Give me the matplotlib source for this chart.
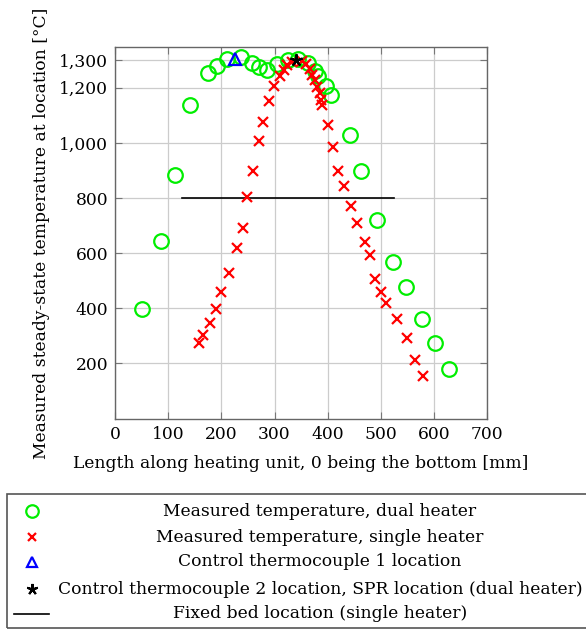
import matplotlib
matplotlib.use("Agg")
import matplotlib.pyplot as plt
from matplotlib.patches import Rectangle
from matplotlib.lines import Line2D
from matplotlib.ticker import FuncFormatter

plt.rcParams['font.family'] = ['DejaVu Serif']
plt.rcParams['font.size'] = 12.3

# dual heater measurements [mm], [degC]
dual_x = [50, 86, 112, 141, 175, 192, 211, 237, 257, 271, 286, 304, 326, 345,
          363, 376, 382, 397, 407, 442, 462, 492, 523, 548, 577, 603, 628]
dual_t = [399, 643, 885, 1136, 1252, 1279, 1304, 1312, 1290, 1274, 1266, 1286, 1300, 1303,
          1290, 1260, 1242, 1206, 1175, 1028, 900, 722, 567, 479, 362, 276, 180]

# single heater measurements
single_x = [158, 165, 178, 189, 199, 214, 229, 240, 249, 259, 270, 279, 290, 299,
            310, 317, 323, 333, 351, 360, 366, 370, 376, 379, 385, 388, 389, 401,
            410, 420, 430, 444, 455, 470, 480, 490, 500, 510, 530, 549, 565, 580]
single_t = [276, 304, 346, 399, 460, 530, 618, 691, 805, 898, 1007, 1077, 1152, 1207,
            1242, 1264, 1282, 1294, 1297, 1288, 1268, 1246, 1228, 1204, 1180, 1155, 1137, 1066,
            986, 899, 844, 771, 709, 640, 594, 507, 459, 421, 362, 294, 213, 153]

tc1_x, tc1_t = [226], [1303]
tc2_x, tc2_t = [340], [1300]
bed_x, bed_t = [125, 525], [800, 800]

xticks = [0, 100, 200, 300, 400, 500, 600, 700]
yticks = [200, 400, 600, 800, 1000, 1200, 1300]

STAR = (5, 2, 0)  # five-armed asterisk, like the pgfplots star

fig = plt.figure(figsize=(5.86, 6.29), dpi=100)
W, H = 586, 629
ax = fig.add_axes([115.2 / W, 1 - 418.6 / H, (487 - 115.2) / W, (418.6 - 47.3) / H])

ax.plot(dual_x, dual_t, 'o', ms=10.5, mfc='none', mec='#00ee00', mew=1.6, zorder=3)
ax.plot(single_x, single_t, 'x', ms=7, mec='red', mew=1.6, zorder=4)
ax.plot(tc1_x, tc1_t, '^', ms=8, mfc='none', mec='blue', mew=1.6, zorder=5)
ax.plot(tc2_x, tc2_t, ls='none', marker=STAR, ms=9, color='black', mew=1.5, zorder=6)
ax.plot(bed_x, bed_t, '-', color='black', lw=1.2, zorder=2)

ax.set_xlim(0, 700)
ax.set_ylim(0, 1347)
ax.set_xticks(xticks)
ax.set_yticks(yticks)
ax.yaxis.set_major_formatter(FuncFormatter(lambda v, p: f"{int(v):,}"))
ax.grid(True, color='#cccccc', lw=0.9)
ax.set_axisbelow(True)
ax.tick_params(direction='in', length=5, color='#777777', top=True, right=True,
               labelsize=12.3, pad=5)
for s in ax.spines.values():
    s.set_color('#666666')
    s.set_linewidth(1.0)

ax.set_xlabel('Length along heating unit, 0 being the bottom [mm]', labelpad=9)
ax.set_ylabel('Measured steady-state temperature at location [°C]', labelpad=7)

# legend, drawn by hand so the text can be centred
fig.patches.append(Rectangle((6.7 / W, 1 - 628 / H), (600 - 6.7) / W, (628 - 494) / H,
                             transform=fig.transFigure, fill=False, ec='#555555', lw=1.2))
rows = [511, 537, 562, 589, 614]
labels = ['Measured temperature, dual heater',
          'Measured temperature, single heater',
          'Control thermocouple 1 location',
          'Control thermocouple 2 location, SPR location (dual heater)',
          'Fixed bed location (single heater)']
styles = [dict(marker='o', ms=9, mfc='none', mec='#00ee00', mew=1.6, ls='none'),
          dict(marker='x', ms=6, mec='red', mew=1.6, ls='none'),
          dict(marker='^', ms=7.5, mfc='none', mec='blue', mew=1.6, ls='none'),
          dict(marker=STAR, ms=8, color='black', mew=1.5, ls='none'),
          None]
for yy, lab, st in zip(rows, labels, styles):
    fy = 1 - yy / H
    if st is None:
        fig.lines.append(Line2D([14 / W, 49 / W], [fy, fy], transform=fig.transFigure,
                                color='black', lw=1.2))
    else:
        fig.lines.append(Line2D([32 / W], [fy], transform=fig.transFigure, **st))
    fig.text(320 / W, fy, lab, ha='center', va='center')

fig.savefig('out.png', dpi=100)
